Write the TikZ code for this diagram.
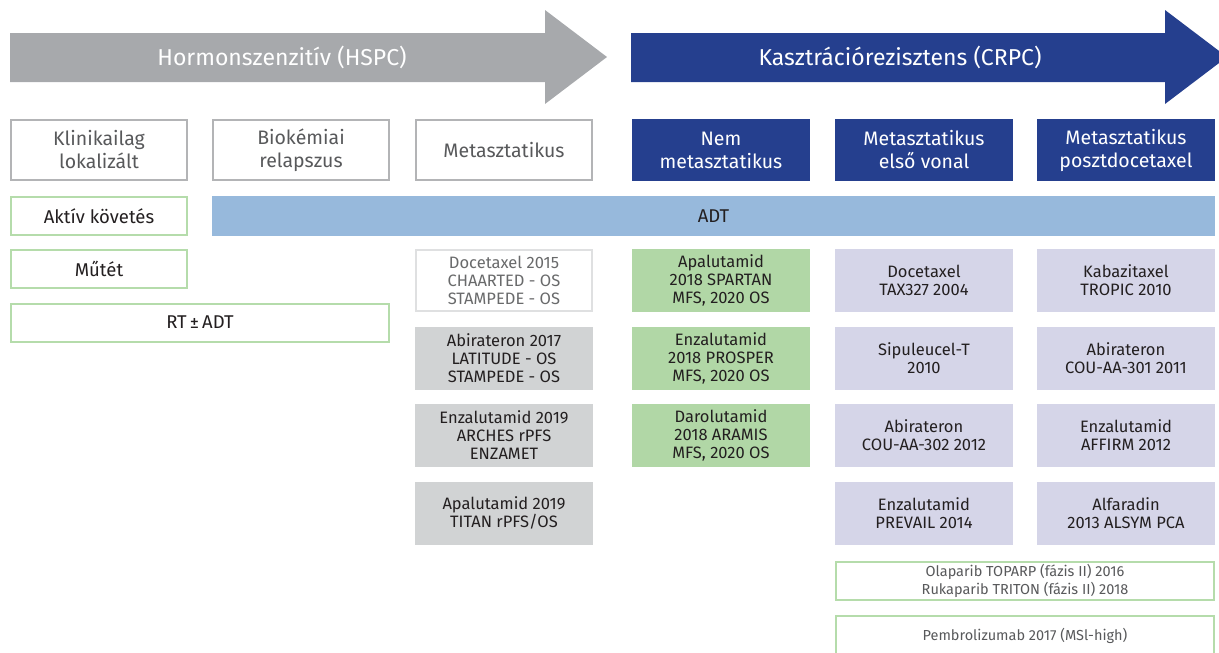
\documentclass[tikz,border=0pt]{standalone}
\usepackage{fontspec}
\setmainfont{Fira Sans}
\usepackage{xcolor}
\usepackage{tikz}
\usetikzlibrary{shapes}
\definecolor{hsgray}{HTML}{A7A9AC}
\definecolor{crblue}{HTML}{253F8E}
\definecolor{boxgray}{HTML}{D1D3D4}
\definecolor{linegray}{HTML}{B3B4B6}
\definecolor{txtgray}{HTML}{58595B}
\definecolor{lightgreen}{HTML}{B5DCAB}
\definecolor{fillgreen}{HTML}{B1D7A6}
\definecolor{adtblue}{HTML}{97B9DC}
\definecolor{lavender}{HTML}{D5D5E8}
\definecolor{darktxt}{HTML}{231F20}
\tikzstyle{stage}=[rectangle,draw=linegray,line width=2pt,fill=white,text=txtgray,minimum width=176pt,minimum height=60pt,inner sep=0pt,align=center,font=\fontsize{19.5}{23}\selectfont]
\tikzstyle{crstage}=[stage,draw=none,fill=crblue,text=white,minimum width=178pt,minimum height=62pt]
\tikzstyle{opt}=[rectangle,draw=lightgreen,line width=2pt,fill=white,text=darktxt,minimum height=38pt,inner sep=0pt,align=center,font=\fontsize{18.5}{20}\selectfont]
\tikzstyle{trial}=[rectangle,fill=boxgray,text=darktxt,minimum width=178pt,minimum height=63pt,inner sep=0pt,align=center,font=\fontsize{16.5}{18}\selectfont]
\tikzstyle{trialw}=[trial,fill=white,draw=boxgray!70,line width=2pt,text=txtgray!90,minimum width=176pt,minimum height=61pt]
\tikzstyle{trialg}=[trial,fill=fillgreen]
\tikzstyle{triall}=[trial,fill=lavender]
\tikzstyle{later}=[opt,minimum width=378pt,text=txtgray,font=\fontsize{14.5}{18}\selectfont]

\begin{document}
\begin{tikzpicture}[x=1pt,y=-1pt]
        \useasboundingbox (0,0) rectangle (1219,653);
        % top arrows
        \fill[hsgray] (10,33) -- (545,33) -- (545,10) -- (607,57) -- (545,104) -- (545,82) -- (10,82) -- cycle;
        \fill[crblue] (631,33) -- (1165,33) -- (1165,10) -- (1227,57) -- (1165,104) -- (1165,82) -- (631,82) -- cycle;
        \node at (282,57) [text=white,font=\fontsize{23}{26}\selectfont] (hspc) {Hormonszenzitív (HSPC)};
        \node at (900,57) [text=white,font=\fontsize{23}{26}\selectfont] (crpc) {Kasztrációrezisztens (CRPC)};

        % stages
        \node at (99,150) [stage] (klin) {Klinikailag\\lokalizált};
        \node at (301,150) [stage] (biok) {Biokémiai\\relapszus};
        \node at (504,150) [stage] (meta) {Metasztatikus};
        \node at (721,150) [crstage] (nemm) {Nem\\metasztatikus};
        \node at (924,150) [crstage] (elso) {Metasztatikus\\első vonal};
        \node at (1126,150) [crstage] (poszt) {Metasztatikus\\posztdocetaxel};

        % ADT and local options
        \node at (713.5,216) [rectangle,fill=adtblue,text=darktxt,minimum width=1003pt,minimum height=40pt,inner sep=0pt,font=\fontsize{18.5}{20}\selectfont] (adt) {ADT};
        \node at (99,216) [opt,minimum width=176pt] (aktiv) {Aktív követés};
        \node at (99,268.5) [opt,minimum width=176pt] (mutet) {Műtét};
        \node at (200,322.5) [opt,minimum width=378pt] (rt) {RT\,±\,ADT};

        % metastatic HSPC
        \node at (504,280) [trialw] (doce15) {Docetaxel 2015\\CHAARTED - OS\\STAMPEDE - OS};
        \node at (504,358) [trial] (abi17) {Abirateron 2017\\LATITUDE - OS\\STAMPEDE - OS};
        \node at (504,435.5) [trial] (enza19) {Enzalutamid 2019\\ARCHES rPFS\\ENZAMET};
        \node at (504,513) [trial] (apa19) {Apalutamid 2019\\TITAN rPFS/OS};

        % nmCRPC
        \node at (721,280.5) [trialg] (apa18) {Apalutamid\\2018 SPARTAN\\MFS, 2020 OS};
        \node at (721,358) [trialg] (enza18) {Enzalutamid\\2018 PROSPER\\MFS, 2020 OS};
        \node at (721,435.5) [trialg] (daro18) {Darolutamid\\2018 ARAMIS\\MFS, 2020 OS};

        % mCRPC first line
        \node at (924,280.5) [triall] (doce04) {Docetaxel\\TAX327 2004};
        \node at (924,358) [triall] (sipu10) {Sipuleucel-T\\2010};
        \node at (924,435.5) [triall] (abi12) {Abirateron\\COU-AA-302 2012};
        \node at (924,513) [triall] (enza14) {Enzalutamid\\PREVAIL 2014};

        % mCRPC post docetaxel
        \node at (1126,280.5) [triall] (kaba10) {Kabazitaxel\\TROPIC 2010};
        \node at (1126,358) [triall] (abi11) {Abirateron\\COU-AA-301 2011};
        \node at (1126,435.5) [triall] (affirm) {Enzalutamid\\AFFIRM 2012};
        \node at (1126,513) [triall] (alfa13) {Alfaradin\\2013 ALSYM PCA};

        % later lines
        \node at (1025,580.5) [later] (parp) {Olaparib TOPARP (fázis II) 2016\\Rukaparib TRITON (fázis II) 2018};
        \node at (1025,636) [later,minimum height=40pt] (pembro) {Pembrolizumab 2017 (MSl-high)};
      \end{tikzpicture}
\end{document}
